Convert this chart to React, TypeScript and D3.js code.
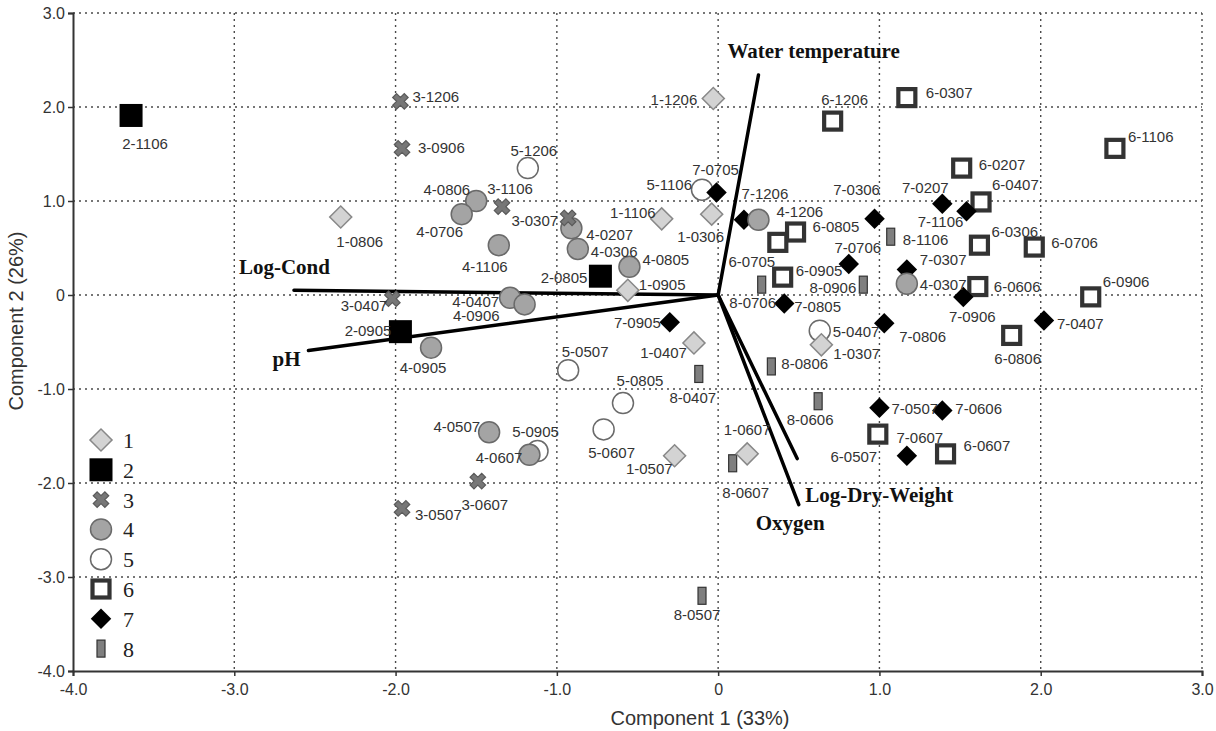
import React, { useEffect, useRef } from 'react'
import * as d3 from 'd3'

// PCA biplot: sampling sites 1-8, sample = site-monthyear
const groups = ['1', '2', '3', '4', '5', '6', '7', '8']

const site1 = [
  ['1-0806', -2.34, 0.83], ['1-1206', -0.03, 2.09], ['1-1106', -0.35, 0.81],
  ['1-0306', -0.04, 0.86], ['1-0905', -0.56, 0.05], ['1-0407', -0.15, -0.51],
  ['1-0307', 0.64, -0.53], ['1-0607', 0.18, -1.69], ['1-0507', -0.27, -1.71]
]
const site2 = [
  ['2-1106', -3.64, 1.91], ['2-0805', -0.73, 0.20], ['2-0905', -1.97, -0.39]
]
const site3 = [
  ['3-1206', -1.97, 2.06], ['3-0906', -1.96, 1.56], ['3-1106', -1.34, 0.94],
  ['3-0307', -0.93, 0.82], ['3-0407', -2.02, -0.04], ['3-0607', -1.49, -1.98],
  ['3-0507', -1.96, -2.27]
]
const site4 = [
  ['4-0806', -1.50, 1.00], ['4-0706', -1.59, 0.86], ['4-1106', -1.36, 0.53],
  ['4-0207', -0.91, 0.71], ['4-0306', -0.87, 0.49], ['4-0805', -0.55, 0.30],
  ['4-0407', -1.29, -0.03], ['4-0906', -1.20, -0.10], ['4-0905', -1.78, -0.56],
  ['4-0507', -1.42, -1.46], ['4-0607', -1.17, -1.70], ['4-1206', 0.25, 0.80],
  ['4-0307', 1.17, 0.12]
]
const site5 = [
  ['5-1206', -1.18, 1.35], ['5-1106', -0.10, 1.12], ['5-0507', -0.93, -0.80],
  ['5-0805', -0.59, -1.15], ['5-0607', -0.71, -1.43], ['5-0905', -1.12, -1.66],
  ['5-0407', 0.63, -0.38]
]
const site6 = [
  ['6-1206', 0.71, 1.85], ['6-0307', 1.17, 2.10], ['6-1106', 2.46, 1.56],
  ['6-0207', 1.51, 1.35], ['6-0407', 1.63, 0.99], ['6-0306', 1.62, 0.53],
  ['6-0706', 1.96, 0.51], ['6-0805', 0.48, 0.67], ['6-0705', 0.37, 0.56],
  ['6-0905', 0.40, 0.19], ['6-0606', 1.61, 0.09], ['6-0906', 2.31, -0.02],
  ['6-0806', 1.82, -0.43], ['6-0507', 0.99, -1.48], ['6-0607', 1.41, -1.69]
]
const site7 = [
  ['7-0705', -0.01, 1.09], ['7-1206', 0.16, 0.80], ['7-0306', 0.97, 0.81],
  ['7-0207', 1.39, 0.97], ['7-1106', 1.54, 0.89], ['7-0706', 0.81, 0.33],
  ['7-0307', 1.17, 0.27], ['7-0805', 0.41, -0.09], ['7-0905', -0.30, -0.29],
  ['7-0906', 1.52, -0.02], ['7-0806', 1.03, -0.30], ['7-0407', 2.02, -0.27],
  ['7-0507', 1.00, -1.20], ['7-0606', 1.39, -1.23], ['7-0607', 1.17, -1.71]
]
const site8 = [
  ['8-1106', 1.07, 0.62], ['8-0906', 0.90, 0.11], ['8-0706', 0.27, 0.11],
  ['8-0806', 0.33, -0.76], ['8-0407', -0.12, -0.84], ['8-0606', 0.62, -1.13],
  ['8-0607', 0.09, -1.79], ['8-0507', -0.10, -3.20]
]

const loadings = [
  ['Water temperature', 0.25, 2.34],
  ['Log-Cond', -2.63, 0.05],
  ['pH', -2.54, -0.59],
  ['Log-Dry-Weight', 0.49, -1.74],
  ['Oxygen', 0.50, -2.23]
]

const ticks = [-4, -3, -2, -1, 0, 1, 2, 3]

// where each sample label sits, relative to its marker (anchor, dx, dy in px)
const labelOffsets = {
  '1-0806': ['middle', 19, 30], '1-1206': ['end', -16, 6], '1-1106': ['end', -6, -1],
  '1-0306': ['middle', -11, 28], '1-0905': ['start', 11, 0], '1-0407': ['end', -7, 15],
  '1-0307': ['start', 12, 14], '1-0607': ['middle', 0, -19], '1-0507': ['end', -2, 18],
  '2-1106': ['middle', 14, 34], '2-0805': ['end', -13, 7], '2-0905': ['end', -9, 4],
  '3-1206': ['start', 12, 1], '3-0906': ['start', 16, 5], '3-1106': ['middle', 8, -13],
  '3-0307': ['end', -10, 8], '3-0407': ['end', -5, 12], '3-0607': ['middle', 7, 29],
  '3-0507': ['start', 13, 12],
  '4-0806': ['end', -6, -6], '4-0706': ['middle', -22, 23], '4-1106': ['middle', -14, 27],
  '4-0207': ['start', 15, 12], '4-0306': ['start', 13, 8], '4-0805': ['start', 13, -2],
  '4-0407': ['end', -11, 9], '4-0906': ['end', -25, 17], '4-0905': ['middle', -8, 25],
  '4-0507': ['end', -9, 0], '4-0607': ['end', -7, 8], '4-1206': ['start', 18, -3],
  '4-0307': ['start', 13, 6],
  '5-1206': ['middle', 6, -12], '5-1106': ['end', -10, 0], '5-0507': ['middle', 17, -13],
  '5-0805': ['middle', 17, -17], '5-0607': ['middle', 8, 29], '5-0905': ['middle', -2, -14],
  '5-0407': ['start', 13, 6],
  '6-1206': ['middle', 12, -16], '6-0307': ['start', 19, 0], '6-1106': ['start', 13, -6],
  '6-0207': ['start', 17, 2], '6-0407': ['start', 11, -12], '6-0306': ['start', 12, -8],
  '6-0706': ['start', 17, 1], '6-0805': ['start', 17, 0], '6-0705': ['middle', -26, 25],
  '6-0905': ['start', 13, -1], '6-0606': ['start', 16, 5], '6-0906': ['start', 12, -10],
  '6-0806': ['middle', 6, 29], '6-0507': ['middle', -24, 28], '6-0607': ['start', 18, -3],
  '7-0705': ['middle', -1, -18], '7-1206': ['middle', 21, -21], '7-0306': ['middle', -18, -24],
  '7-0207': ['middle', -17, -11], '7-1106': ['middle', -26, 16], '7-0706': ['middle', 9, -11],
  '7-0307': ['start', 13, -5], '7-0805': ['start', 10, 9], '7-0905': ['end', -9, 6],
  '7-0906': ['middle', 9, 25], '7-0806': ['start', 15, 19], '7-0407': ['start', 13, 9],
  '7-0507': ['start', 12, 6], '7-0606': ['start', 13, 3], '7-0607': ['middle', 13, -13],
  '8-1106': ['start', 12, 8], '8-0906': ['end', -7, 8], '8-0706': ['middle', -9, 23],
  '8-0806': ['start', 10, 3], '8-0407': ['middle', -6, 29], '8-0606': ['middle', -8, 24],
  '8-0607': ['middle', 13, 35], '8-0507': ['middle', -5, 24]
}

// vector labels relative to arrow tip
const loadingLabelOffsets = {
  'Water temperature': [-31, -17],
  'Log-Cond': [-55, -16],
  'pH': [-36, 16],
  'Log-Dry-Weight': [8, 43],
  'Oxygen': [-43, 25]
}

const sans = "'Liberation Sans', Arial, sans-serif"
const serif = "'Liberation Serif', 'Times New Roman', serif"

function drawMarker (sel, group) {
  switch (group) {
    case '1':
      sel.append('path').attr('d', d3.symbol(d3.symbolSquare, 243)()).attr('transform', 'rotate(45)')
        .attr('fill', '#d3d3d3').attr('stroke', '#888').attr('stroke-width', 1.5)
      break
    case '2':
      sel.append('rect').attr('x', -11.5).attr('y', -11.5).attr('width', 23).attr('height', 23).attr('fill', '#000')
      break
    case '3':
      sel.append('path').attr('d', d3.symbol(d3.symbolCross, 150)()).attr('transform', 'rotate(45)')
        .attr('fill', '#777').attr('stroke', '#5a5a5a').attr('stroke-width', 1.2)
      break
    case '4':
      sel.append('circle').attr('r', 10.5).attr('fill', '#a4a4a4').attr('stroke', '#6a6a6a').attr('stroke-width', 1.5)
      break
    case '5':
      sel.append('circle').attr('r', 10.5).attr('fill', '#fff').attr('stroke', '#6a6a6a').attr('stroke-width', 1.5)
      break
    case '6':
      sel.append('rect').attr('x', -8.5).attr('y', -8.5).attr('width', 17).attr('height', 17)
        .attr('fill', '#fff').attr('stroke', '#333').attr('stroke-width', 4.2)
      break
    case '7':
      sel.append('path').attr('d', d3.symbol(d3.symbolSquare, 210)()).attr('transform', 'rotate(45)').attr('fill', '#000')
      break
    case '8':
      sel.append('rect').attr('x', -4).attr('y', -8.5).attr('width', 8).attr('height', 17)
        .attr('fill', '#7f7f7f').attr('stroke', '#333').attr('stroke-width', 1.2)
      break
  }
}

function Biplot () {
  const ref = useRef(null)

  useEffect(() => {
    const svg = d3.select(ref.current)
    svg.selectAll('*').remove()

    const x = d3.scaleLinear().domain([-4, 3]).range([73, 1202])
    const y = d3.scaleLinear().domain([-4, 3]).range([671, 13])
    const fmt = v => (v === 0 ? '0' : v.toFixed(1))

    // dotted grid
    const grid = svg.append('g').attr('stroke', '#4a4a4a').attr('stroke-width', 1.4).attr('stroke-dasharray', '2,4')
    ticks.filter(t => t > -4).forEach(t => {
      grid.append('line').attr('x1', x(t)).attr('x2', x(t)).attr('y1', y(3)).attr('y2', y(-4))
      grid.append('line').attr('x1', x(-4)).attr('x2', x(3)).attr('y1', y(t)).attr('y2', y(t))
    })

    // axes
    const yAxis = svg.append('g').attr('transform', `translate(${x(-4)},0)`)
      .call(d3.axisLeft(y).tickValues(ticks).tickFormat(fmt).tickSize(5).tickPadding(3))
    const xAxis = svg.append('g').attr('transform', `translate(0,${y(-4)})`)
      .call(d3.axisBottom(x).tickValues(ticks).tickFormat(fmt).tickSize(5).tickPadding(8))
    ;[xAxis, yAxis].forEach(a => {
      a.select('.domain').attr('stroke', '#333').attr('stroke-width', 2)
      a.selectAll('.tick line').attr('stroke', '#333').attr('stroke-width', 1.5)
      a.selectAll('text').attr('fill', '#333').style('font-family', sans).style('font-size', '16px')
    })

    svg.append('text').attr('x', 700).attr('y', 725).attr('text-anchor', 'middle')
      .attr('fill', '#333').style('font-family', sans).style('font-size', '20px').text('Component 1 (33%)')
    svg.append('text').attr('transform', 'translate(23,321) rotate(-90)').attr('text-anchor', 'middle')
      .attr('fill', '#333').style('font-family', sans).style('font-size', '20px').text('Component 2 (26%)')

    // loading vectors
    const vec = svg.append('g')
    loadings.forEach(([name, lx, ly]) => {
      vec.append('line').attr('x1', x(0)).attr('y1', y(0)).attr('x2', x(lx)).attr('y2', y(ly))
        .attr('stroke', '#000').attr('stroke-width', 3.5).attr('stroke-linecap', 'round')
      const [dx, dy] = loadingLabelOffsets[name]
      vec.append('text').attr('x', x(lx) + dx).attr('y', y(ly) + dy)
        .attr('fill', '#111').style('font-family', serif).style('font-weight', 'bold').style('font-size', '21px')
        .text(name)
    })

    // sample markers
    const sites = { 1: site1, 2: site2, 3: site3, 4: site4, 5: site5, 6: site6, 7: site7, 8: site8 }
    const drawOrder = ['8', '6', '5', '7', '1', '4', '2', '3']
    drawOrder.forEach(gr => {
      sites[gr].forEach(([name, px, py]) => {
        const g = svg.append('g').attr('transform', `translate(${x(px)},${y(py)})`)
        drawMarker(g, gr)
      })
    })

    // sample labels
    const labels = svg.append('g').attr('fill', '#333').style('font-family', sans).style('font-size', '15px')
    groups.forEach(gr => {
      sites[gr].forEach(([name, px, py]) => {
        const [anchor, dx, dy] = labelOffsets[name]
        labels.append('text').attr('x', x(px) + dx).attr('y', y(py) + dy)
          .attr('text-anchor', anchor).text(name)
      })
    })

    // legend
    const legend = svg.append('g')
    groups.forEach((gr, i) => {
      const ly = 440 + i * 29.8
      drawMarker(legend.append('g').attr('transform', `translate(101,${ly})`), gr)
      legend.append('text').attr('x', 123).attr('y', ly + 8)
        .attr('fill', '#222').style('font-family', serif).style('font-size', '22px').text(gr)
    })
  }, [])

  return <svg ref={ref} width={1216} height={731} style={{ position: 'absolute', left: 0, top: 0, background: '#fff' }} />
}

export default function App () {
  return <Biplot />
}
